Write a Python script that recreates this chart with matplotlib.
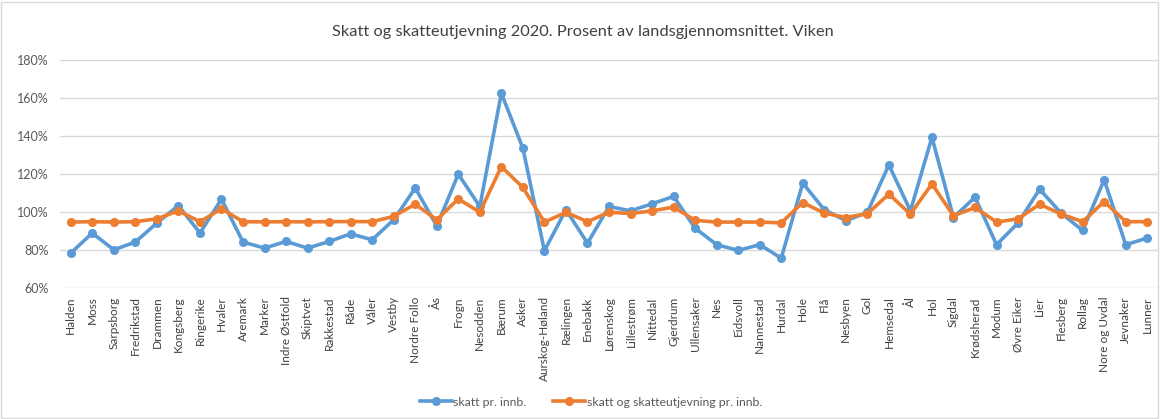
import matplotlib
matplotlib.use("Agg")
import matplotlib.pyplot as plt
from matplotlib.ticker import PercentFormatter
from matplotlib.patches import Rectangle

# Kommuner i Viken
kommuner = ["Halden", "Moss", "Sarpsborg", "Fredrikstad", "Drammen", "Kongsberg",
            "Ringerike", "Hvaler", "Aremark", "Marker", "Indre Østfold", "Skiptvet",
            "Rakkestad", "Råde", "Våler", "Vestby", "Nordre Follo", "Ås", "Frogn",
            "Nesodden", "Bærum", "Asker", "Aurskog-Høland", "Rælingen", "Enebakk",
            "Lørenskog", "Lillestrøm", "Nittedal", "Gjerdrum", "Ullensaker", "Nes",
            "Eidsvoll", "Nannestad", "Hurdal", "Hole", "Flå", "Nesbyen", "Gol",
            "Hemsedal", "Ål", "Hol", "Sigdal", "Krødsherad", "Modum", "Øvre Eiker",
            "Lier", "Flesberg", "Rollag", "Nore og Uvdal", "Jevnaker", "Lunner"]

# skatt pr. innb. (prosent av landsgjennomsnittet)
skatt = [78.4, 88.9, 80.1, 84.2, 94.2, 103.4, 88.9, 106.8, 84.2, 81.0,
         84.5, 81.0, 84.5, 88.5, 85.4, 95.9, 112.6, 92.7, 119.9, 102.9,
         162.5, 133.6, 79.6, 101.2, 83.6, 102.9, 100.6, 104.3, 108.2, 91.5,
         82.8, 79.8, 82.8, 75.7, 115.2, 101.2, 95.4, 99.8, 124.8, 100.6,
         139.3, 97.1, 107.8, 82.8, 94.2, 112.0, 99.4, 90.3, 116.9, 82.8, 86.3]

# skatt og skatteutjevning pr. innb.
skatt_utj = [94.7, 94.9, 94.7, 94.9, 96.4, 100.6, 94.9, 101.7, 94.9, 94.8,
             94.9, 94.8, 94.9, 95.0, 94.9, 97.7, 104.1, 95.9, 106.9, 99.9,
             123.9, 112.9, 94.7, 99.8, 94.9, 99.9, 99.2, 100.6, 102.6, 95.6,
             94.7, 94.7, 94.7, 94.3, 105.0, 99.4, 97.1, 99.1, 109.4, 98.9,
             114.8, 98.0, 102.4, 94.7, 96.4, 104.1, 98.9, 94.9, 105.5, 94.9, 94.9]

blue = "#5B9BD5"
orange = "#ED7D31"
grey_txt = "#595959"

plt.rcParams["font.family"] = ["Lato", "DejaVu Sans"]

W, H = 1160, 419
fig = plt.figure(figsize=(W / 100, H / 100), dpi=100)
ax = fig.add_axes([60 / W, 1 - 288 / H, (1158 - 60) / W, (288 - 60) / H])

x = range(len(kommuner))
ax.plot(x, skatt, color=blue, lw=2.6, marker="o", ms=5.5, label="skatt pr. innb.",
        solid_joinstyle="round", zorder=3)
ax.plot(x, skatt_utj, color=orange, lw=2.6, marker="o", ms=5.5,
        label="skatt og skatteutjevning pr. innb.", solid_joinstyle="round", zorder=4)

ax.set_xlim(-0.5, len(kommuner) - 0.5)
ax.set_ylim(60, 180)
ax.set_yticks(range(60, 181, 20))
ax.yaxis.set_major_formatter(PercentFormatter(decimals=0))
ax.grid(axis="y", color="#d9d9d9", lw=1)
ax.set_axisbelow(True)
for s in ax.spines.values():
    s.set_visible(False)
ax.tick_params(axis="y", length=0, labelsize=9, labelcolor=grey_txt, pad=8)
ax.set_xticks(list(x))
ax.set_xticklabels(kommuner, rotation=90, fontsize=8.5, color="#404040")
ax.tick_params(axis="x", length=0, pad=6)

fig.suptitle("Skatt og skatteutjevning 2020. Prosent av landsgjennomsnittet. Viken",
             x=583 / W, y=1 - 32 / H, fontsize=11.8, color="#404040", va="center")

fig.legend(loc="center", bbox_to_anchor=(591 / W, 1 - 402 / H), ncol=2, frameon=False,
           fontsize=8.8, labelcolor=grey_txt, handlelength=2.6, columnspacing=2.2,
           handletextpad=0.15)

fig.patches.append(Rectangle((1 / W, 1 / H), 1 - 3 / W, 1 - 3 / H, transform=fig.transFigure,
                             fill=False, edgecolor="#d9d9d9", lw=1))

fig.savefig("out.png", dpi=100)
